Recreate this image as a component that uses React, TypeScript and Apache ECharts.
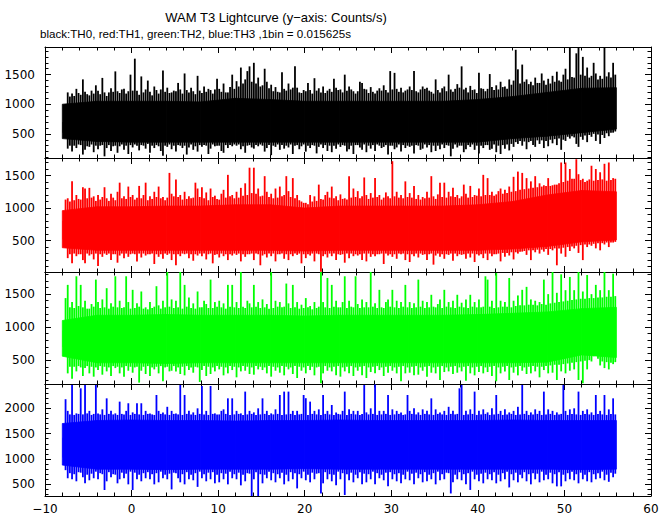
import React, { useEffect, useRef } from 'react';
import * as echarts from 'echarts';

// Envelope of the 1/64 s lightcurve, in 0.25 s bins starting at t = -8 s
// (each value = extreme count rate seen in that bin)
const BIN_START = -8;
const BIN_WIDTH = 0.25;

// Times of the dense-core envelope samples
const coreTimes = [-8, -4, 0, 4, 8, 12, 16, 20, 24, 28, 32, 36, 40, 44, 48, 52, 56];

// ---- TH0 (black) ----
const th0High = [
  700, 900, 1200, 1130, 1180, 1140, 1260, 1190, 1160, 1420, 1210, 1170, 1150, 1230, 1180, 1320,
  1230, 1170, 1445, 1200, 1140, 1200, 1270, 1210, 1555, 1220, 1190, 1250, 1260, 1180, 1220, 1500,
  1230, 1770, 1230, 1160, 1470, 1200, 1250, 1400, 1210, 1150, 1300, 1240, 1180, 1250, 1570, 1210,
  1280, 1190, 1200, 1230, 1220, 1360, 1250, 1180, 1520, 1240, 1200, 1280, 1220, 1170, 1480, 1230,
  1190, 1300, 1210, 1260, 1240, 1180, 1250, 1430, 1260, 1210, 1350, 1200, 1200, 1290, 1500, 1260,
  1390, 1300, 1620, 1350, 1420, 1560, 1640, 1380, 1700, 1350, 1450, 1300, 1320, 1600, 1380, 1270,
  1330, 1220, 1290, 1210, 1200, 1540, 1260, 1230, 1350, 1250, 1280, 1640, 1280, 1200, 1190, 1240,
  1220, 1360, 1240, 1180, 1440, 1230, 1270, 1200, 1300, 1190, 1230, 1260, 1210, 1430, 1280, 1240,
  1250, 1200, 1500, 1230, 1300, 1250, 1220, 1180, 1220, 1380, 1360, 1260, 1250, 1190, 1290, 1210,
  1180, 1230, 1270, 1230, 1320, 1240, 1200, 1560, 1250, 1530, 1260, 1210, 1280, 1200, 1230, 1250,
  1300, 1240, 1560, 1220, 1200, 1250, 1300, 1260, 1280, 1230, 1210, 1180, 1420, 1240, 1200, 1270,
  1300, 1220, 1500, 1250, 1210, 1260, 1340, 1280, 1640, 1250, 1280, 1200, 1310, 1240, 1250, 1190,
  1530, 1270, 1260, 1220, 1260, 1510, 1290, 1240, 1320, 1250, 1380, 1290, 1300, 1260, 1420, 1330,
  1400, 1920, 1590, 1350, 1670, 1380, 1420, 1340, 1380, 1320, 1450, 1360, 1360, 1520, 1400, 1330,
  1430, 1350, 1480, 1380, 1550, 1400, 1380, 1500, 1600, 1420, 1990, 1460, 1450, 1860, 1990, 1500,
  1800, 1480, 1620, 1450, 1480, 1700, 1520, 1420, 1480, 1430, 1990, 1470, 1540, 1450, 1700, 1500,
];
const th0Low = [
  520, 510, 250, 300, 200, 300, 260, 320, 310, 150, 230, 290, 280, 320, 190, 300,
  240, 300, 310, 120, 260, 310, 210, 290, 300, 180, 290, 320, 230, 300, 160, 310,
  270, 320, 300, 220, 310, 300, 250, 330, 180, 300, 260, 310, 290, 210, 130, 300,
  280, 320, 240, 300, 200, 310, 300, 260, 300, 150, 270, 320, 230, 290, 200, 310,
  280, 310, 300, 160, 250, 320, 290, 300, 300, 210, 180, 310, 260, 310, 290, 320,
  300, 320, 240, 290, 180, 300, 310, 270, 250, 310, 290, 320, 300, 200, 260, 310,
  140, 300, 280, 320, 230, 310, 250, 300, 270, 320, 160, 300, 310, 240, 290, 320,
  200, 300, 260, 310, 300, 170, 280, 320, 260, 310, 210, 300, 190, 300, 250, 320,
  280, 310, 300, 200, 240, 300, 160, 310, 310, 270, 230, 320, 190, 300, 250, 310,
  210, 320, 300, 260, 280, 310, 150, 300, 300, 240, 270, 320, 200, 310, 260, 300,
  280, 300, 170, 310, 300, 230, 250, 320, 270, 310, 190, 300, 210, 300, 240, 320,
  260, 310, 300, 120, 250, 320, 270, 300, 300, 190, 240, 310, 280, 320, 230, 300,
  170, 300, 260, 310, 310, 230, 250, 320, 190, 300, 160, 310, 250, 320, 220, 330,
  280, 360, 330, 380, 300, 370, 240, 360, 380, 310, 280, 390, 330, 390, 260, 380,
  290, 400, 340, 410, 310, 420, 230, 400, 380, 450, 420, 460, 440, 330, 280, 450,
  400, 470, 360, 480, 450, 500, 380, 490, 330, 480, 430, 510, 460, 520, 520, 540,
];
const th0CoreHigh = [1000, 1050, 1050, 1050, 1040, 1100, 1080, 1050, 1050, 1050, 1050, 1050, 1080, 1130, 1200, 1270, 1280];
const th0CoreLow = [420, 370, 360, 360, 360, 360, 360, 360, 360, 360, 360, 360, 360, 420, 460, 520, 580];

// ---- TH1 (red) ----
const th1High = [
  800, 1130, 1150, 1100, 1410, 1120, 1200, 1140, 1130, 1320, 1300, 1150, 1310, 1160, 1180, 1110,
  1200, 1130, 1170, 1320, 1150, 1110, 1220, 1160, 1120, 1250, 1390, 1150, 1180, 1140, 1330, 1170,
  1200, 1130, 1160, 1340, 1150, 1200, 1390, 1120, 1180, 1140, 1250, 1170, 1330, 1150, 1170, 1120,
  1160, 1540, 1220, 1180, 1440, 1170, 1200, 1130, 1250, 1140, 1180, 1150, 1160, 1390, 1300, 1170,
  1320, 1150, 1240, 1120, 1300, 1170, 1190, 1140, 1130, 1220, 1280, 1160, 1510, 1180, 1200, 1150,
  1250, 1160, 1310, 1190, 1380, 1200, 1620, 1230, 1620, 1220, 1300, 1180, 1190, 1490, 1250, 1170,
  1220, 1150, 1300, 1160, 1330, 1180, 1200, 1490, 1260, 1170, 1460, 1150, 1200, 1120, 1100, 1080,
  1080, 1060, 1200, 1100, 1180, 1110, 1360, 1140, 1130, 1200, 1250, 1160, 1330, 1150, 1180, 1120,
  1210, 1140, 1150, 1130, 1490, 1160, 1300, 1170, 1260, 1150, 1180, 1470, 1200, 1140, 1230, 1160,
  1460, 1170, 1200, 1130, 1160, 1240, 1180, 1150, 1720, 1180, 1250, 1160, 1200, 1150, 1410, 1170,
  1230, 1160, 1340, 1140, 1200, 1130, 1170, 1150, 1250, 1160, 1490, 1180, 1140, 1210, 1390, 1170,
  1390, 1160, 1250, 1180, 1310, 1170, 1200, 1150, 1180, 1360, 1220, 1160, 1340, 1170, 1200, 1190,
  1300, 1180, 1510, 1200, 1460, 1200, 1250, 1190, 1210, 1260, 1300, 1220, 1280, 1230, 1330, 1250,
  1480, 1260, 1560, 1280, 1540, 1290, 1460, 1300, 1410, 1310, 1490, 1320, 1380, 1330, 1350, 1340,
  1460, 1340, 1350, 1360, 1360, 1380, 1700, 1400, 1700, 1420, 1600, 1450, 1450, 1750, 1520, 1430,
  1450, 1400, 1420, 1440, 1650, 1420, 1600, 1430, 1550, 1440, 1680, 1420, 1700, 1430, 1460, 1450,
];
const th1Low = [
  520, 500, 230, 290, 150, 300, 260, 290, 290, 200, 150, 300, 270, 290, 210, 300,
  110, 290, 250, 300, 280, 300, 200, 290, 290, 160, 270, 300, 230, 300, 250, 290,
  300, 290, 180, 300, 240, 300, 270, 290, 290, 300, 140, 290, 250, 290, 220, 300,
  280, 300, 200, 290, 120, 290, 260, 300, 290, 300, 230, 290, 190, 290, 270, 300,
  260, 300, 210, 290, 300, 150, 280, 290, 240, 300, 260, 290, 200, 290, 270, 300,
  280, 300, 180, 290, 250, 290, 290, 300, 200, 300, 290, 120, 270, 290, 240, 300,
  260, 300, 180, 290, 290, 300, 220, 290, 200, 290, 260, 300, 280, 300, 150, 290,
  230, 290, 270, 300, 180, 300, 290, 20, 260, 290, 240, 300, 260, 300, 200, 290,
  280, 290, 160, 300, 230, 300, 260, 290, 270, 290, 200, 300, 180, 300, 250, 290,
  260, 290, 290, 300, 140, 300, 270, 290, 250, 290, 220, 300, 290, 300, 200, 290,
  170, 290, 260, 300, 240, 300, 280, 290, 200, 290, 300, 130, 270, 300, 250, 290,
  220, 290, 280, 300, 190, 300, 260, 290, 280, 290, 220, 300, 240, 300, 170, 290,
  270, 290, 230, 300, 200, 300, 260, 290, 290, 300, 180, 310, 250, 310, 270, 320,
  210, 320, 300, 330, 330, 340, 280, 350, 200, 350, 320, 360, 300, 360, 330, 370,
  280, 370, 350, 380, 120, 380, 300, 390, 250, 400, 340, 410, 380, 420, 310, 430,
  200, 440, 400, 440, 420, 450, 380, 460, 350, 460, 440, 470, 400, 470, 470, 480,
];
const th1CoreHigh = [960, 1020, 1020, 1030, 1030, 1050, 1050, 1000, 1030, 1030, 1030, 1030, 1050, 1100, 1200, 1270, 1250];
const th1CoreLow = [390, 350, 350, 350, 350, 350, 350, 340, 350, 350, 350, 350, 350, 370, 410, 480, 510];

// ---- TH2 (green) ----
const th2High = [
  950, 1440, 1640, 1300, 1380, 1290, 1770, 1320, 1640, 1300, 1400, 1280, 1280, 1350, 1310, 1720,
  1380, 1290, 1420, 1300, 1590, 1280, 1360, 1310, 1770, 1300, 1400, 1290, 1300, 1770, 1380, 1280,
  1565, 1290, 1360, 1310, 1540, 1280, 1300, 1270, 1380, 1290, 1310, 1620, 1330, 1280, 1400, 1300,
  1835, 1310, 1420, 1290, 1400, 1300, 1835, 1280, 1640, 1310, 1450, 1290, 1360, 1280, 1540, 1300,
  1300, 1400, 1350, 1290, 1720, 1290, 1380, 1310, 1400, 1300, 1360, 1280, 1640, 1310, 1640, 1300,
  1380, 1290, 1835, 1310, 1290, 1400, 1360, 1300, 1640, 1310, 1380, 1290, 1420, 1300, 1350, 1280,
  1835, 1290, 1400, 1310, 1380, 1300, 1310, 1660, 1360, 1290, 1640, 1300, 1380, 1280, 1340, 1290,
  1440, 1300, 1320, 1270, 1380, 1290, 1310, 1835, 1380, 1300, 1745, 1290, 1640, 1310, 1400, 1300,
  1300, 1380, 1770, 1290, 1400, 1310, 1300, 1770, 1350, 1290, 1420, 1300, 1380, 1300, 1835, 1310,
  1360, 1290, 1565, 1300, 1290, 1380, 1420, 1310, 1565, 1300, 1400, 1290, 1380, 1310, 1640, 1300,
  1380, 1290, 1360, 1300, 1720, 1310, 1400, 1290, 1380, 1300, 1490, 1310, 1300, 1350, 1420, 1290,
  1565, 1310, 1380, 1300, 1400, 1290, 1490, 1310, 1370, 1300, 1420, 1290, 1490, 1310, 1380, 1300,
  1420, 1300, 1310, 1770, 1720, 1310, 1400, 1290, 1820, 1300, 1400, 1310, 1380, 1310, 1745, 1300,
  1400, 1320, 1480, 1330, 1565, 1330, 1610, 1340, 1420, 1340, 1400, 1330, 1380, 1350, 1720, 1340,
  1500, 1360, 1835, 1370, 1520, 1380, 1800, 1390, 1560, 1400, 1760, 1410, 1560, 1420, 1835, 1430,
  1540, 1430, 1790, 1440, 1500, 1440, 1640, 1450, 1560, 1450, 1835, 1460, 1560, 1460, 1810, 1470,
];
const th2Low = [
  700, 620, 300, 400, 220, 400, 330, 410, 390, 260, 380, 410, 300, 400, 250, 390,
  350, 410, 280, 400, 330, 390, 260, 410, 380, 400, 300, 390, 250, 410, 340, 400,
  310, 390, 400, 160, 340, 400, 290, 410, 260, 390, 360, 400, 300, 410, 180, 390,
  400, 330, 340, 410, 330, 390, 290, 400, 270, 410, 350, 390, 310, 400, 390, 170,
  350, 410, 260, 400, 290, 390, 330, 410, 360, 400, 270, 390, 300, 410, 350, 400,
  240, 390, 330, 410, 340, 400, 290, 390, 280, 410, 360, 400, 350, 390, 300, 410,
  250, 400, 340, 390, 310, 410, 270, 400, 360, 390, 290, 410, 230, 400, 340, 390,
  300, 410, 350, 400, 270, 390, 400, 150, 300, 410, 340, 390, 330, 400, 270, 410,
  250, 390, 330, 400, 300, 410, 260, 390, 340, 400, 270, 410, 230, 390, 320, 400,
  300, 410, 350, 390, 260, 400, 310, 410, 340, 390, 300, 400, 180, 410, 300, 390,
  310, 400, 270, 410, 280, 390, 340, 400, 250, 410, 310, 390, 300, 400, 200, 410,
  320, 390, 330, 400, 290, 410, 310, 390, 330, 400, 190, 410, 300, 390, 270, 400,
  320, 410, 300, 390, 320, 400, 260, 410, 180, 390, 300, 400, 330, 410, 200, 390,
  310, 400, 270, 410, 340, 390, 290, 400, 300, 410, 330, 400, 240, 400, 350, 410,
  300, 420, 310, 430, 200, 430, 330, 440, 300, 450, 340, 460, 360, 470, 200, 480,
  150, 490, 360, 500, 480, 560, 600, 520, 420, 480, 380, 470, 360, 460, 440, 470,
];
const th2CoreHigh = [1100, 1180, 1180, 1190, 1180, 1180, 1180, 1170, 1180, 1180, 1180, 1180, 1190, 1210, 1230, 1280, 1300];
const th2CoreLow = [560, 460, 460, 450, 460, 460, 460, 460, 460, 460, 460, 460, 460, 460, 470, 580, 540];

// ---- TH3 (blue) ----
const th3High = [
  1420, 2180, 1950, 1880, 2460, 1870, 1900, 1890, 2395, 1880, 2460, 1900, 1950, 1870, 1890, 2460,
  1900, 1880, 1980, 1870, 2197, 1890, 1950, 1880, 1900, 1870, 2132, 1890, 1880, 1950, 2100, 1870,
  1920, 1890, 2100, 1880, 2100, 1870, 1950, 1890, 1900, 1880, 1870, 2263, 1950, 1890, 1920, 1880,
  2030, 1870, 1950, 1890, 1900, 1880, 2460, 1870, 2263, 1890, 1950, 1880, 1920, 1870, 2000, 1890,
  2440, 1880, 1950, 1870, 2440, 1890, 1900, 1880, 1880, 1950, 1980, 1890, 2197, 1870, 2197, 1880,
  1950, 1890, 1900, 1870, 2330, 1880, 1950, 1890, 1920, 1870, 2000, 1880, 2197, 1890, 1950, 1870,
  1900, 1880, 1980, 1890, 2263, 1870, 2330, 1880, 2330, 1890, 1950, 1870, 1950, 1880, 1890, 2263,
  2200, 1870, 2132, 1890, 1950, 1880, 1980, 1870, 2263, 1890, 1950, 1880, 2066, 1870, 1920, 1890,
  1880, 1950, 2330, 1870, 1980, 1890, 1950, 1880, 1950, 1870, 1890, 2460, 1920, 1880, 2000, 1890,
  2470, 1870, 1950, 1880, 1950, 1890, 2263, 1870, 1980, 1880, 1950, 1890, 1920, 1870, 1880, 2263,
  1950, 1890, 2000, 1880, 1920, 1870, 1980, 1890, 1950, 1880, 2197, 1870, 1980, 1890, 1920, 1880,
  1950, 1870, 2030, 1890, 1950, 1880, 1890, 2395, 2460, 1870, 1950, 1880, 1980, 1890, 2330, 1870,
  1950, 1880, 1980, 1890, 1920, 1870, 2000, 1880, 2263, 1890, 1950, 1870, 1980, 1880, 1920, 1890,
  1950, 1870, 2030, 1880, 2460, 1890, 1950, 1870, 1920, 1880, 1980, 1890, 1950, 1870, 2330, 1880,
  1980, 1890, 1950, 1870, 1920, 1880, 1890, 2460, 1950, 1870, 1980, 1890, 2000, 1880, 2330, 1870,
  1950, 1890, 1980, 1880, 1920, 1870, 2263, 1890, 1950, 1880, 2263, 1870, 1980, 1890, 2197, 1880,
];
const th3Low = [
  1030, 780, 620, 720, 600, 700, 560, 740, 730, 640, 520, 690, 580, 710, 620, 750,
  600, 720, 700, 388, 560, 740, 640, 700, 690, 520, 600, 730, 620, 710, 500, 750,
  388, 730, 600, 690, 560, 720, 620, 740, 600, 700, 500, 720, 540, 750, 620, 690,
  600, 710, 400, 730, 720, 620, 540, 700, 500, 740, 600, 690, 580, 720, 450, 750,
  620, 700, 560, 730, 600, 740, 520, 690, 540, 720, 600, 710, 500, 750, 620, 700,
  600, 730, 480, 690, 560, 720, 710, 270, 600, 740, 270, 700, 520, 690, 620, 750,
  580, 720, 540, 700, 620, 730, 500, 690, 560, 740, 600, 720, 420, 700, 620, 750,
  580, 690, 540, 730, 600, 710, 720, 320, 520, 740, 600, 700, 560, 690, 480, 750,
  600, 720, 290, 700, 580, 730, 540, 690, 620, 740, 500, 710, 540, 700, 600, 750,
  500, 720, 620, 690, 580, 730, 460, 740, 600, 700, 560, 720, 520, 690, 600, 750,
  580, 710, 500, 730, 620, 700, 540, 740, 560, 690, 600, 720, 500, 750, 580, 700,
  600, 730, 720, 320, 540, 690, 600, 740, 580, 700, 500, 720, 390, 750, 600, 690,
  560, 710, 520, 730, 600, 700, 580, 740, 520, 690, 560, 720, 600, 750, 440, 700,
  580, 730, 540, 690, 620, 740, 560, 700, 500, 720, 600, 710, 540, 750, 580, 690,
  600, 730, 520, 700, 460, 740, 460, 690, 560, 720, 600, 750, 580, 700, 520, 730,
  600, 690, 560, 740, 540, 700, 600, 720, 620, 750, 580, 690, 550, 730, 640, 710,
];
const th3CoreHigh = [1700, 1760, 1770, 1760, 1760, 1750, 1760, 1760, 1770, 1760, 1760, 1760, 1760, 1770, 1760, 1760, 1760];
const th3CoreLow = [880, 800, 800, 790, 800, 800, 800, 810, 800, 800, 800, 800, 800, 800, 800, 790, 800];

// Axes
const yRanges = [[92, 1967], [17, 1769], [139, 1835], [270, 2480]];
const yMajorTicks = [[500, 1000, 1500], [500, 1000, 1500], [500, 1000, 1500], [500, 1000, 1500, 2000]];
const xMin = -10;
const xMax = 60;
const xStep = 10;

const titleText = 'WAM T3 Lightcurve (y\u2212axis: Counts/s)';
const subtitleText = 'black:TH0, red:TH1, green:TH2, blue:TH3 ,1bin = 0.015625s';

const panelColors = ['#000000', '#ff0000', '#00ff00', '#0000ff'];
const panelData = [
  { high: th0High, low: th0Low, coreHigh: th0CoreHigh, coreLow: th0CoreLow },
  { high: th1High, low: th1Low, coreHigh: th1CoreHigh, coreLow: th1CoreLow },
  { high: th2High, low: th2Low, coreHigh: th2CoreHigh, coreLow: th2CoreLow },
  { high: th3High, low: th3Low, coreHigh: th3CoreHigh, coreLow: th3CoreLow },
];
const gridBoxes = [
  { top: 47, height: 111 },
  { top: 158, height: 114 },
  { top: 272, height: 112 },
  { top: 384, height: 112 },
];

const TICK_FONT = 'DejaVu Sans';
const TITLE_FONT = 'Liberation Sans';

function minorTicksFor(range: number[]) {
  const out: number[] = [];
  for (let v = 100; v < range[1]; v += 100) if (v > range[0]) out.push(v);
  return out;
}

function buildOption() {
  const grid: any[] = [];
  const xAxis: any[] = [];
  const yAxis: any[] = [];
  const series: any[] = [];

  panelData.forEach((p, i) => {
    grid.push({ left: 45, right: 21, top: gridBoxes[i].top, height: gridBoxes[i].height, containLabel: false });
    const isBottom = i === 3;
    const baseX = {
      type: 'value', gridIndex: i, min: xMin, max: xMax, interval: xStep,
      axisLine: { show: true, onZero: false, lineStyle: { color: '#000', width: 1 } },
      axisTick: { show: true, inside: true, length: 6, lineStyle: { color: '#000', width: 1 } },
      minorTick: { show: true, splitNumber: 5, length: 3.5, lineStyle: { color: '#000', width: 1 } },
      splitLine: { show: false }, minorSplitLine: { show: false },
    };
    xAxis.push({
      ...baseX, position: 'bottom',
      axisLabel: isBottom ? {
        show: true, color: '#000', fontFamily: TICK_FONT, fontSize: 12, margin: 7,
        formatter: (v: number) => (v < 0 ? '\u2212' + Math.abs(v) : String(v)),
      } : { show: false },
    });
    xAxis.push({ ...baseX, position: 'top', axisLabel: { show: false } });

    const range = yRanges[i];
    const majors = yMajorTicks[i];
    const minors = minorTicksFor(range);
    const baseY = {
      type: 'value', gridIndex: i, min: range[0], max: range[1],
      splitLine: { show: false },
    };
    yAxis.push({
      ...baseY, position: 'left',
      axisLine: { show: true, onZero: false, lineStyle: { color: '#000', width: 1 } },
      axisTick: { show: true, inside: true, length: 6, customValues: majors, lineStyle: { color: '#000' } },
      axisLabel: {
        show: true, customValues: majors, color: '#000', fontFamily: TICK_FONT, fontSize: 12, margin: 10,
        formatter: (v: number) => String(v),
      },
    });
    yAxis.push({
      ...baseY, position: 'left',
      axisLine: { show: false, onZero: false },
      axisTick: { show: true, inside: true, length: 3.5, customValues: minors, lineStyle: { color: '#000' } },
      axisLabel: { show: false },
    });
    yAxis.push({
      ...baseY, position: 'right',
      axisLine: { show: true, onZero: false, lineStyle: { color: '#000', width: 1 } },
      axisTick: { show: true, inside: true, length: 6, customValues: majors, lineStyle: { color: '#000' } },
      axisLabel: { show: false },
    });
    yAxis.push({
      ...baseY, position: 'right',
      axisLine: { show: false, onZero: false },
      axisTick: { show: true, inside: true, length: 3.5, customValues: minors, lineStyle: { color: '#000' } },
      axisLabel: { show: false },
    });

    const color = panelColors[i];

    // dense core band (segments between envelope samples)
    const coreItems = coreTimes.slice(0, -1).map((t, k) => [
      t, coreTimes[k + 1], p.coreHigh[k], p.coreHigh[k + 1], p.coreLow[k], p.coreLow[k + 1],
    ]);
    series.push({
      type: 'custom', xAxisIndex: 2 * i, yAxisIndex: 4 * i, clip: true, silent: true,
      encode: { x: [0, 1], y: [2, 3, 4, 5] },
      data: coreItems,
      renderItem: (params: any, api: any) => {
        const a = api.coord([api.value(0), api.value(2)]);
        const b = api.coord([api.value(1), api.value(3)]);
        const c = api.coord([api.value(1), api.value(5)]);
        const d = api.coord([api.value(0), api.value(4)]);
        return {
          type: 'polygon', shape: { points: [a, b, c, d] },
          style: { fill: color, stroke: color, lineWidth: 0.8 },
        };
      },
    });

    // per-bin extremes (spikes)
    const spikeItems = p.high.map((h, k) => [BIN_START + k * BIN_WIDTH, p.low[k], h]);
    series.push({
      type: 'custom', xAxisIndex: 2 * i, yAxisIndex: 4 * i, clip: true, silent: true,
      encode: { x: 0, y: [1, 2] },
      data: spikeItems,
      renderItem: (params: any, api: any) => {
        const t = api.value(0) + BIN_WIDTH / 2;
        const top = api.coord([t, api.value(2)]);
        const bot = api.coord([t, api.value(1)]);
        return {
          type: 'rect',
          shape: { x: top[0] - 0.9, y: top[1], width: 1.8, height: bot[1] - top[1] },
          style: { fill: color },
        };
      },
    });
  });

  return {
    animation: false,
    backgroundColor: '#ffffff',
    grid, xAxis, yAxis, series,
    graphic: [
      { type: 'text', x: 276, y: 17, style: { text: titleText, fill: '#000', font: `13px "${TITLE_FONT}"`, textAlign: 'center', textVerticalAlign: 'middle' } },
      { type: 'text', x: 40, y: 33, style: { text: subtitleText, fill: '#000', font: `11.6px "${TITLE_FONT}"`, textAlign: 'left', textVerticalAlign: 'middle' } },
    ],
  };
}

export default function App() {
  const ref = useRef<HTMLDivElement>(null);
  useEffect(() => {
    if (!ref.current) return;
    const chart = echarts.init(ref.current, undefined, { renderer: 'svg' });
    chart.setOption(buildOption() as any);
    return () => chart.dispose();
  }, []);
  return (
    <div
      ref={ref}
      style={{ position: 'fixed', left: 0, top: 0, width: 672, height: 515, background: '#fff' }}
    />
  );
}
